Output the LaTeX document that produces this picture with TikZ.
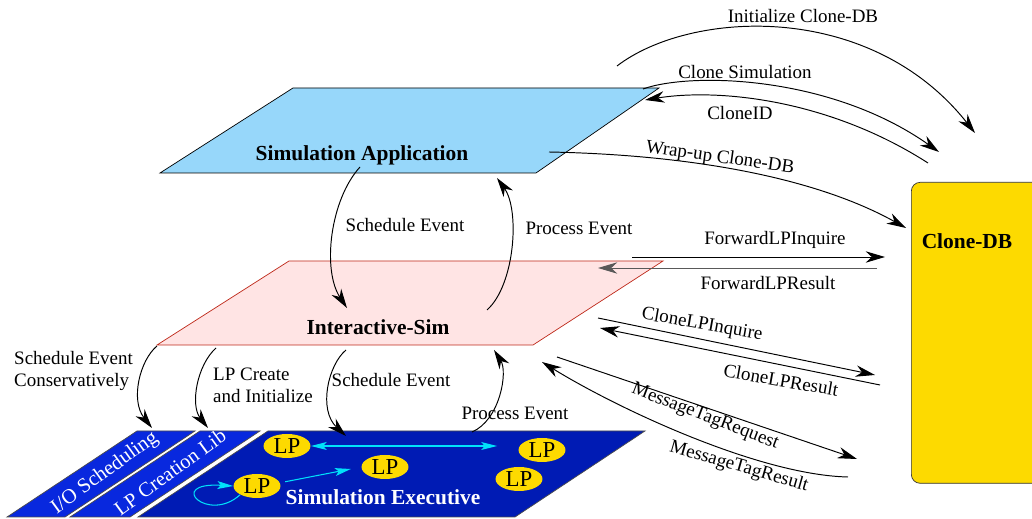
\documentclass[tikz,border=0pt]{standalone}
\usepackage{fontspec}
\setmainfont{Liberation Serif}
\usetikzlibrary{arrows.meta,shapes.geometric}

\definecolor{appblue}{RGB}{151,215,250}
\definecolor{simpink}{RGB}{255,228,228}
\definecolor{simred}{RGB}{190,40,25}
\definecolor{execblue}{RGB}{0,27,180}
\definecolor{libblue}{RGB}{8,40,222}
\definecolor{dbgold}{RGB}{253,218,0}
\definecolor{lpcyan}{RGB}{0,225,250}

\tikzset{
	msg/.style={font=\fontsize{10.8}{12.5}\selectfont},
	layer/.style={font=\bfseries\fontsize{12.2}{14}\selectfont},
	lp/.style={ellipse, fill=dbgold, minimum width=0.94cm, minimum height=0.48cm, inner sep=0pt, font=\fontsize{13}{14}\selectfont},
	call/.style={->, line width=0.55pt},
	lpcall/.style={lpcyan, line width=0.6pt, >={Stealth[length=9pt,width=4.5pt,inset=2pt]}},
}

\begin{document}
\begin{tikzpicture}[x=0.02cm, y=-0.02cm, >={Stealth[length=11pt,width=6.5pt,inset=3.5pt]}]
		\useasboundingbox (0,0) rectangle (1032,519);

		\draw[fill=appblue] (293,88) -- (659,88) -- (536,173) -- (160,173) -- cycle;
		\draw[simred, fill=simpink] (289,261) -- (663,261) -- (533,345) -- (157,345) -- cycle;
		\draw[black!70, fill=libblue] (137,431) -- (195,431) -- (65,517) -- (7,517) -- cycle;
		\draw[black!70, fill=libblue] (200,431) -- (260,431) -- (130,517) -- (70,517) -- cycle;
		\draw[black!70, fill=execblue] (268,431) -- (645,431) -- (515,517) -- (138,517) -- cycle;

		\draw 
		(911,182) node [rectangle, draw=black!80, fill=dbgold, rounded corners=5pt, anchor=north west, minimum width=2.8cm, minimum height=6.02cm] (clonedb) {}
		(967,241) node [layer] (clonedbname) {Clone-DB}
		(362,155) node [layer] (simapp) {Simulation Application}
		(378,327) node [layer] (intsim) {Interactive-Sim}
		(383,497) node [layer, white] (simexec) {Simulation Executive}
		(105,473) node [rotate=36, white, inner sep=0pt, font=\fontsize{11.8}{14}\selectfont] (ioshed) {I/O Scheduling}
		(170,472) node [rotate=36, white, inner sep=0pt, font=\fontsize{11.6}{14}\selectfont] (lplib) {LP Creation Lib};

		\draw 
		(287,446) node [lp] (lp1) {LP}
		(257,486) node [lp] (lp2) {LP}
		(385,467) node [lp] (lp3) {LP}
		(542,450) node [lp] (lp4) {LP}
		(519,479) node [lp] (lp5) {LP};
		\draw[lpcall, <->, shorten >=12pt] (lp1.east) -- (lp1.east -| lp4.west);
		\draw[lpcall, ->, shorten <=3pt, shorten >=6pt] (lp2.8) -- (lp3.west);
		\draw[lpcall, ->] (lp2.south west) .. controls (208,524) and (165,482) .. (lp2.west);

		\path 
		(617,66) coordinate (initA) (975,133) coordinate (initB)
		(643,89) coordinate (cloneA) (939,152) coordinate (cloneB)
		(928,163) coordinate (cidA) (645,100) coordinate (cidB)
		(549,152) coordinate (wrapA) (906,228) coordinate (wrapB)
		(632,257) coordinate (fwdqA) (885,257) coordinate (fwdqB)
		(877,268) coordinate (fwdrA) (598,268) coordinate (fwdrB)
		(598,318) coordinate (clqA) (875,375) coordinate (clqB)
		(880,385) coordinate (clrA) (600,328) coordinate (clrB)
		(557,357) coordinate (mtqA) (857,459) coordinate (mtqB)
		(848,477) coordinate (mtrA) (542,362) coordinate (mtrB)
		(360,167) coordinate (schedA) (347,308) coordinate (schedB)
		(487,310) coordinate (procA) (497,178) coordinate (procB)
		(157,346) coordinate (consA) (152,428) coordinate (consB)
		(216,348) coordinate (creA) (208,428) coordinate (creB)
		(346,350) coordinate (schedlA) (346,436) coordinate (schedlB)
		(472,432) coordinate (proclA) (494,350) coordinate (proclB);

		\draw[call] (initA) .. controls (690,10) and (870,0) .. (initB);
		\draw[call] (cloneA) .. controls (690,72) and (830,75) .. (cloneB);
		\draw[call] (cidA) .. controls (830,100) and (720,88) .. (cidB);
		\draw[call] (wrapA) .. controls (700,155) and (820,180) .. (wrapB);
		\draw[call] (fwdqA) -- (fwdqB);
		\draw[call, black!65] (fwdrA) -- (fwdrB);
		\draw[call] (clqA) -- (clqB);
		\draw[call] (clrA) -- (clrB);
		\draw[call] (mtqA) -- (mtqB);
		\draw[call] (mtrA) .. controls (760,475) and (620,410) .. (mtrB);
		\draw[call] (schedA) .. controls (330,200) and (322,270) .. (schedB);
		\draw[call] (procA) .. controls (515,285) and (520,210) .. (procB);
		\draw[call] (consA) .. controls (140,360) and (130,400) .. (consB);
		\draw[call] (creA) .. controls (197,365) and (190,405) .. (creB);
		\draw[call] (schedlA) .. controls (328,365) and (318,410) .. (schedlB);
		\draw[call] (proclA) .. controls (500,420) and (508,372) .. (proclB);

		\draw 
		(803,16) node [msg] (initlbl) {Initialize Clone-DB}
		(745,72) node [msg] (clonelbl) {Clone Simulation}
		(740,113) node [msg] (cidlbl) {CloneID}
		(720,158) node [msg, rotate=-8] (wraplbl) {Wrap-up Clone-DB}
		(775,240) node [msg] (fwdqlbl) {ForwardLPInquire}
		(768,283) node [msg] (fwdrlbl) {ForwardLPResult}
		(702,325) node [msg, rotate=-10] (clqlbl) {CloneLPInquire}
		(781,380) node [msg, rotate=-10] (clrlbl) {CloneLPResult}
		(705,417) node [msg, rotate=-21] (mtqlbl) {MessageTagRequest}
		(739,467) node [msg, rotate=-16] (mtrlbl) {MessageTagResult}
		(405,225) node [msg] (schedlbl) {Schedule Event}
		(579,228) node [msg] (proclbl) {Process Event}
		(8,371) node [msg, anchor=west, align=left] (conslbl) {Schedule Event\\Conservatively}
		(207,385) node [msg, anchor=west, align=left] (crelbl) {LP Create\\and Initialize}
		(391,380) node [msg] (schedllbl) {Schedule Event}
		(515,413) node [msg] (procllbl) {Process Event};
	\end{tikzpicture}
\end{document}
